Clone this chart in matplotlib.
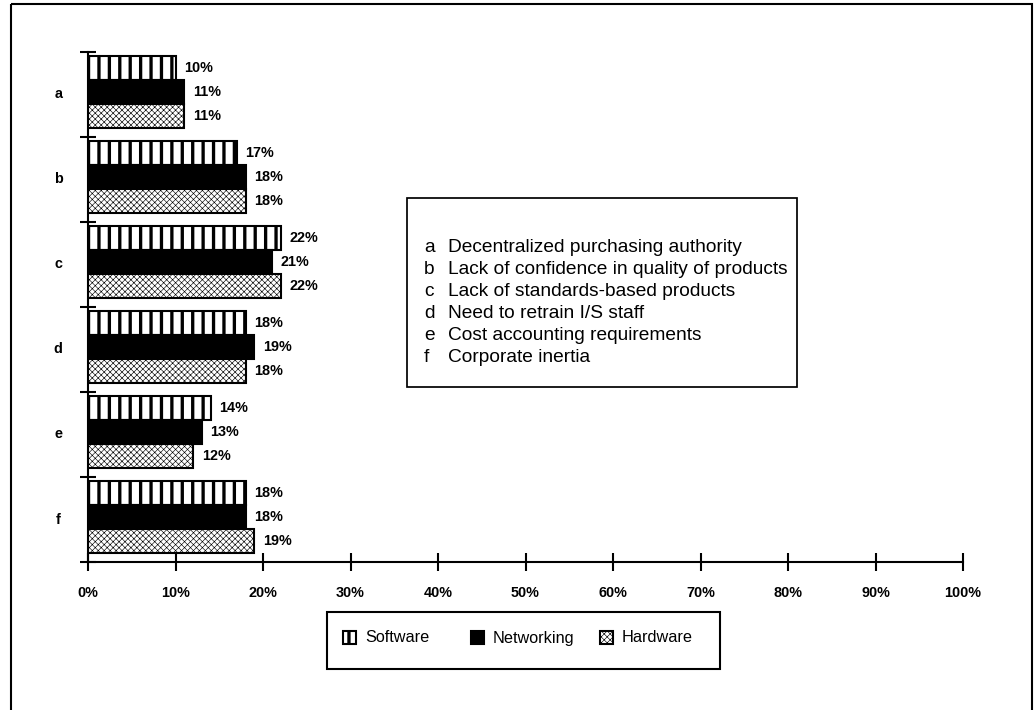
import matplotlib
matplotlib.use("Agg")
import matplotlib.pyplot as plt
from matplotlib.patches import Rectangle
import numpy as np

# Survey data: share of respondents citing each barrier, by purchase area
categories = ["a", "b", "c", "d", "e", "f"]
descriptions = [
    "Decentralized purchasing authority",
    "Lack of confidence in quality of products",
    "Lack of standards-based products",
    "Need to retrain I/S staff",
    "Cost accounting requirements",
    "Corporate inertia",
]
series_names = ["Software", "Networking", "Hardware"]
software = [10, 17, 22, 18, 14, 18]
networking = [11, 18, 21, 19, 13, 18]
hardware = [11, 18, 22, 18, 12, 19]
x_ticks = [0, 10, 20, 30, 40, 50, 60, 70, 80, 90, 100]
x_tick_labels = ["0%", "10%", "20%", "30%", "40%", "50%", "60%", "70%", "80%", "90%", "100%"]

DPI = 125
W, H = 1035, 710
plt.rcParams["font.family"] = ["Liberation Sans", "DejaVu Sans"]

fig = plt.figure(figsize=(W / DPI, H / DPI), dpi=DPI)
fig.patch.set_facecolor("white")

# main axes in pixel layout
left_px, right_px, top_px, bot_px = 88, 963, 52, 562
ax = fig.add_axes([left_px / W, 1 - bot_px / H, (right_px - left_px) / W, (bot_px - top_px) / H])

styles = [
    dict(facecolor="white", edgecolor="black", hatch="||", hlw=1.9),
    dict(facecolor="black", edgecolor="black", hatch=None, hlw=1.0),
    dict(facecolor="white", edgecolor="#333333", hatch="xxxxxxx", hlw=0.35),
]
series = [software, networking, hardware]

bar_h = 0.28
offsets = [0.05 + bar_h / 2, 0.05 + 1.5 * bar_h, 0.05 + 2.5 * bar_h]
group_pos = np.arange(len(categories))

label_font = dict(fontsize=8.3, fontweight="bold")

for vals, st, off in zip(series, styles, offsets):
    with plt.rc_context({"hatch.linewidth": st["hlw"]}):
        bars = ax.barh(group_pos + off, vals, height=bar_h,
                       facecolor=st["facecolor"], edgecolor=st["edgecolor"],
                       hatch=st["hatch"], linewidth=1.2)
    for b in bars:
        b.set_edgecolor("black")
        if hasattr(b, "set_hatch_linewidth"):
            b.set_hatch_linewidth(st["hlw"])
        if st["hatch"] and hasattr(b, "set_hatchcolor"):
            b.set_hatchcolor(st["edgecolor"])
    for y, v in zip(group_pos + off, vals):
        ax.annotate(f"{v}%", xy=(v, y), xytext=(5, 0), textcoords="offset points",
                    ha="left", va="center", **label_font)

ax.set_xlim(0, 100)
ax.set_ylim(len(categories), 0)
ax.set_xticks(x_ticks)
ax.set_xticklabels(x_tick_labels, **label_font)
ax.set_yticks(np.arange(len(categories) + 1))
ax.set_yticklabels([])
ax.tick_params(axis="x", direction="inout", length=10, width=1.2, pad=9)
ax.tick_params(axis="y", direction="inout", length=9, width=1.2)
for s in ["top", "right"]:
    ax.spines[s].set_visible(False)
for s in ["left", "bottom"]:
    ax.spines[s].set_linewidth(1.2)

for i, c in enumerate(categories):
    ax.text(-3.4, i + 0.5, c, ha="center", va="center", **label_font)

# overlay in pixel coordinates for the frame, key box and legend
ov = fig.add_axes([0, 0, 1, 1], zorder=-1)
ov.set_xlim(0, W)
ov.set_ylim(H, 0)
ov.axis("off")
ov.add_patch(Rectangle((11, 4), 1021, 720, fill=False, edgecolor="black", linewidth=1.2))

ov2 = fig.add_axes([0, 0, 1, 1], zorder=5)
ov2.set_xlim(0, W)
ov2.set_ylim(H, 0)
ov2.axis("off")
ov2.patch.set_alpha(0)

# description key
ov2.add_patch(Rectangle((407, 198), 390, 189, facecolor="white", edgecolor="black", linewidth=1.0))
for i, (c, d) in enumerate(zip(categories, descriptions)):
    y = 247 + i * 22.2
    ov2.text(424, y, c, ha="left", va="center", fontsize=11)
    ov2.text(448, y, d, ha="left", va="center", fontsize=11)

# series legend
ov2.add_patch(Rectangle((327, 612), 393, 57, facecolor="white", edgecolor="black", linewidth=1.2))
icon_x = [343, 471, 600]
for xi, name, st in zip(icon_x, series_names, styles):
    with plt.rc_context({"hatch.linewidth": st["hlw"]}):
        p = Rectangle((xi, 631), 13, 13, facecolor=st["facecolor"], edgecolor="black",
                      hatch=st["hatch"], linewidth=1.2)
    if hasattr(p, "set_hatch_linewidth"):
        p.set_hatch_linewidth(st["hlw"])
    ov2.add_patch(p)
    ov2.text(xi + 22, 638, name, ha="left", va="center", fontsize=9.4)

fig.savefig("out.png", dpi=DPI)
